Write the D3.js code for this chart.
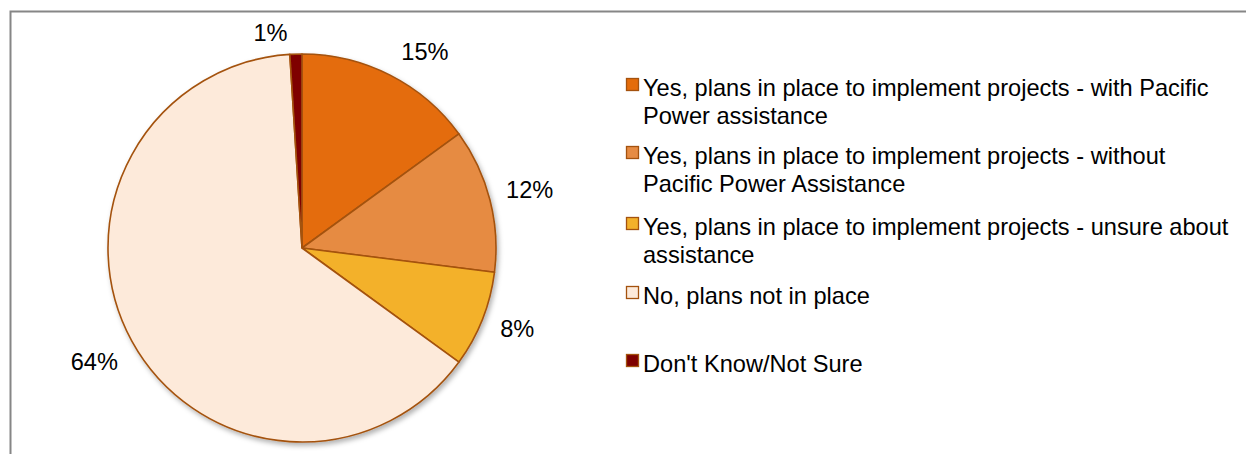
<!DOCTYPE html>
<html>
<head>
<meta charset="utf-8">
<script src="https://cdn.jsdelivr.net/npm/d3@7/dist/d3.min.js"></script>
<style>
  html, body { margin: 0; padding: 0; background: #fff; }
  svg { display: block; font-family: "Liberation Sans", Arial, sans-serif; }
</style>
</head>
<body>
<svg id="chart" width="1246" height="454"></svg>
<script>
// Survey responses: plans to implement energy projects
const categories = [
  "Yes, plans in place to implement projects - with Pacific Power assistance",
  "Yes, plans in place to implement projects - without Pacific Power Assistance",
  "Yes, plans in place to implement projects - unsure about assistance",
  "No, plans not in place",
  "Don't Know/Not Sure"
];
const shares = [15, 12, 8, 64, 1];
const legendLines = [
  ["Yes, plans in place to implement projects - with Pacific", "Power assistance"],
  ["Yes, plans in place to implement projects - without", "Pacific Power Assistance"],
  ["Yes, plans in place to implement projects - unsure about", "assistance"],
  ["No, plans not in place"],
  ["Don't Know/Not Sure"]
];
const sliceColors = ["#E46C0A", "#E68B43", "#F3B12B", "#FDEADA", "#7F0000"];

// Layout
const W = 1246, H = 454;
const cx = 302, cy = 248, radius = 194;
const outline = "#A4520E";
const fontSize = 23.6;
const labelRadius = 232;
// small per-label tweaks [degrees, px] to keep text clear of neighbours
const labelTweak = [[5, 0], [0, 3], [-1, -2], [0, 5], [-6.5, -14]];

const svg = d3.select("#chart");

// outer frame (open on the right and bottom)
svg.append("rect")
  .attr("x", 10.5).attr("y", 11.5)
  .attr("width", W + 20).attr("height", H + 20)
  .attr("fill", "none").attr("stroke", "#868686").attr("stroke-width", 2);

const defs = svg.append("defs");
const shadow = defs.append("filter").attr("id", "pieShadow")
  .attr("x", "-10%").attr("y", "-10%").attr("width", "130%").attr("height", "130%");
shadow.append("feDropShadow")
  .attr("dx", 2).attr("dy", 3).attr("stdDeviation", 2.5)
  .attr("flood-color", "#000").attr("flood-opacity", 0.3);

const pie = d3.pie().sort(null).value(d => d).startAngle(0).endAngle(2 * Math.PI);
const arcs = pie(shares);
const arc = d3.arc().innerRadius(0).outerRadius(radius);

const g = svg.append("g").attr("transform", `translate(${cx},${cy})`);

g.append("g").attr("filter", "url(#pieShadow)")
  .selectAll("path")
  .data(arcs)
  .join("path")
  .attr("d", arc)
  .attr("fill", (d, i) => sliceColors[i])
  .attr("stroke", outline)
  .attr("stroke-width", 1.6)
  .attr("stroke-linejoin", "round");

// percentage labels outside the pie
g.selectAll("text.pct")
  .data(arcs)
  .join("text")
  .attr("class", "pct")
  .attr("transform", (d, i) => {
    const a = (d.startAngle + d.endAngle) / 2 + labelTweak[i][0] * Math.PI / 180;
    const r = labelRadius + labelTweak[i][1];
    return `translate(${r * Math.sin(a)},${-r * Math.cos(a)})`;
  })
  .attr("text-anchor", "middle")
  .attr("dy", "0.35em")
  .attr("font-size", fontSize)
  .attr("fill", "#000")
  .text(d => d.data + "%");

// legend
const legendX = 626;
const itemBaselines = [96, 164, 235, 304, 372];
const lineGap = 28;
const legend = svg.append("g");
categories.forEach((c, i) => {
  const item = legend.append("g").attr("aria-label", c);
  item.append("rect")
    .attr("x", legendX + 0.5).attr("y", itemBaselines[i] - 17.5)
    .attr("width", 12).attr("height", 12)
    .attr("fill", sliceColors[i])
    .attr("stroke", outline).attr("stroke-width", 1.3);
  legendLines[i].forEach((line, j) => {
    item.append("text")
      .attr("x", legendX + 17)
      .attr("y", itemBaselines[i] + j * lineGap)
      .attr("font-size", fontSize)
      .attr("fill", "#000")
      .text(line);
  });
});
</script>
</body>
</html>
